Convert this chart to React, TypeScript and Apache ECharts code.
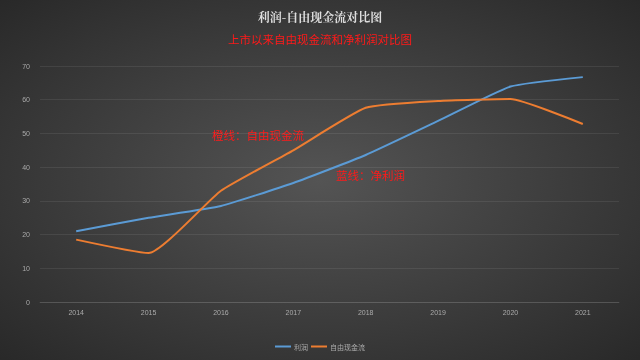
import React, { useEffect, useRef } from "react";
import * as echarts from "echarts";

const years = ["2014", "2015", "2016", "2017", "2018", "2019", "2020", "2021"];
const profit = [21, 25, 28.5, 35.3, 43.6, 53.7, 63.9, 66.7];
const freeCashFlow = [18.5, 14.5, 33, 45, 57.6, 59.6, 60.2, 52.8];

export default function App() {
  const ref = useRef<HTMLDivElement>(null);
  useEffect(() => {
    if (!ref.current) return;
    const chart = echarts.init(ref.current, null, { renderer: "svg" });
    chart.setOption({
      animation: false,
      graphic: [
        {
          type: "rect",
          z: -10,
          silent: true,
          shape: { x: 0, y: 0, width: 640, height: 360 },
          style: {
            fill: new echarts.graphic.RadialGradient(0.5, 0.5, 0.75, [
              { offset: 0, color: "#545454" },
              { offset: 1, color: "#262626" },
            ]),
          },
        },
        {
          type: "text",
          left: 212,
          top: 129,
          style: { text: "橙线：自由现金流", fill: "#ff1a1a", fontSize: 11.5, fontFamily: "Noto Sans CJK SC" },
        },
        {
          type: "text",
          left: 336,
          top: 169,
          style: { text: "蓝线：净利润", fill: "#ff1a1a", fontSize: 11.5, fontFamily: "Noto Sans CJK SC" },
        },
      ],
      title: [
        {
          text: "利润-自由现金流对比图",
          left: "center",
          top: 5,
          textStyle: { color: "#dddddd", fontSize: 12, fontWeight: "bold", fontFamily: "Noto Serif CJK SC, Noto Sans CJK SC" },
        },
        {
          text: "上市以来自由现金流和净利润对比图",
          left: "center",
          top: 28,
          textStyle: { color: "#ff1a1a", fontSize: 11.5, fontWeight: "normal", fontFamily: "Noto Sans CJK SC" },
        },
      ],
      legend: {
        bottom: 5,
        left: "center",
        itemWidth: 16,
        itemHeight: 2,
        itemGap: 3,
        icon: "rect",
        textStyle: { color: "#aaaaaa", fontSize: 7, padding: [0, 0, 0, -2], fontFamily: "Noto Sans CJK SC" },
        data: ["利润", "自由现金流"],
      },
      grid: { left: 40, right: 21, top: 66, bottom: 58 },
      xAxis: {
        type: "category",
        data: years,
        boundaryGap: true,
        axisLine: { lineStyle: { color: "rgba(255,255,255,0.1)" } },
        axisTick: { show: false },
        axisLabel: { color: "#aaaaaa", fontSize: 7, margin: 7 },
      },
      yAxis: {
        type: "value",
        min: 0,
        max: 70,
        interval: 10,
        axisLine: { show: false },
        axisTick: { show: false },
        axisLabel: { color: "#aaaaaa", fontSize: 7, margin: 10 },
        splitLine: { lineStyle: { color: "rgba(255,255,255,0.08)", width: 1 } },
      },
      series: [
        {
          name: "利润",
          type: "line",
          data: profit,
          smooth: 0.15,
          showSymbol: false,
          lineStyle: { color: "#5b9bd5", width: 2 },
          itemStyle: { color: "#5b9bd5" },
        },
        {
          name: "自由现金流",
          type: "line",
          data: freeCashFlow,
          smooth: 0.15,
          showSymbol: false,
          lineStyle: { color: "#ed7d31", width: 2 },
          itemStyle: { color: "#ed7d31" },
        },
      ],
    });
    return () => chart.dispose();
  }, []);
  return (
    <div
      ref={ref}
      style={{ position: "fixed", left: 0, top: 0, width: 640, height: 360 }}
    />
  );
}
